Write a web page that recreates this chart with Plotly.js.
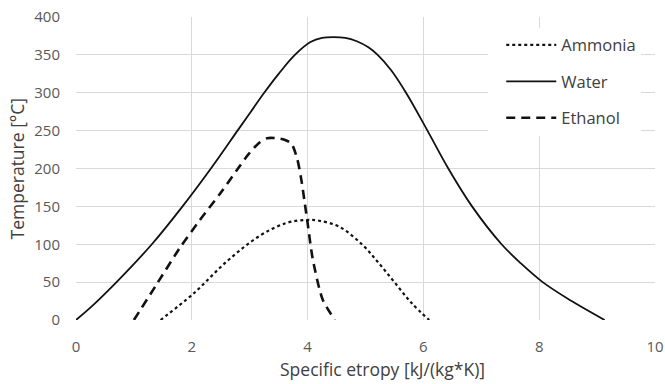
<!DOCTYPE html>
<html>
<head>
<meta charset="utf-8">
<script src="https://cdn.plot.ly/plotly-3.0.1.min.js"></script>
<style>html,body{margin:0;padding:0;background:#fff;}#chart{width:665px;height:384px;}</style>
</head>
<body>
<div id="chart"></div>
<script>
// Ammonia saturation dome
const ammoniaS = [1.46, 2.03, 2.6, 3.17, 3.63, 3.97, 4.2, 4.55, 4.95, 5.23, 5.52, 5.8, 6.1];
const ammoniaT = [0, 35, 77, 111, 128, 132, 131, 123, 99, 75, 48, 22, 0];
// Water saturation dome
const waterS = [0, 0.30, 0.70, 1.31, 1.84, 2.33, 2.79, 3.02, 3.25, 3.50, 3.78, 4.05, 4.25, 4.45, 4.65, 4.85, 5.05, 5.21, 5.44, 5.70, 6.07, 6.43, 6.84, 7.35, 7.68, 8.06, 8.56, 9.13];
const waterT = [0, 20, 50, 100, 150, 200, 250, 275, 300, 325, 350, 367, 372.5, 373.5, 372.5, 368, 360, 350, 330, 300, 250, 200, 150, 100, 75, 50, 25, 0];
// Ethanol saturation dome
const ethanolS = [1.0, 1.4, 1.8, 2.14, 2.5, 2.77, 2.97, 3.15, 3.3, 3.46, 3.6, 3.72, 3.82, 3.89, 3.95, 4.0, 4.09, 4.26, 4.47];
const ethanolT = [0, 48, 96, 132, 168, 197, 218, 233, 240, 240, 238, 233, 213, 186, 155, 128, 80, 27, 0];

const xTicks = [0, 2, 4, 6, 8, 10];
const yTicks = [0, 50, 100, 150, 200, 250, 300, 350, 400];

const xTitle = 'Specific etropy [kJ/(kg*K)]';
const yTitle = 'Temperature [°C]';

const FONT = 'Open Sans, sans-serif';
const traces = [
  {x: ammoniaS, y: ammoniaT, name: 'Ammonia', mode: 'lines', legendgroup: 'a',
   line: {color: '#111111', width: 2.2, dash: 'dot', shape: 'spline', smoothing: 1}},
  {x: waterS, y: waterT, name: 'Water', mode: 'lines', legendgroup: 'w',
   line: {color: '#111111', width: 1.8, shape: 'spline', smoothing: 1}},
  {x: ethanolS, y: ethanolT, name: 'Ethanol', mode: 'lines', legendgroup: 'e',
   line: {color: '#111111', width: 2.6, dash: '9px,6px', shape: 'spline', smoothing: 0.7}}
];

const layout = {
  width: 665, height: 384,
  margin: {l: 76, r: 10, t: 17, b: 64},
  paper_bgcolor: '#ffffff', plot_bgcolor: '#ffffff',
  font: {family: FONT, size: 15, color: '#595959'},
  showlegend: true,
  legend: {x: 0.712, y: 0.965, xanchor: 'left', yanchor: 'top', indentation: 13,
           bgcolor: '#ffffff', borderwidth: 0, tracegroupgap: 12, itemwidth: 50,
           font: {family: FONT, size: 16.5, color: '#404040'}},
  xaxis: {range: [0, 10], tickvals: xTicks, ticktext: xTicks.map(String),
          showgrid: true, gridcolor: '#d9d9d9', gridwidth: 1,
          zeroline: false, showline: false, ticks: 'outside', ticklen: 13, tickcolor: 'rgba(0,0,0,0)',
          tickfont: {family: FONT, size: 15, color: '#595959'},
          fixedrange: true},
  yaxis: {range: [0, 400], tickvals: yTicks, ticktext: yTicks.map(String),
          showgrid: true, gridcolor: '#d9d9d9', gridwidth: 1,
          zeroline: false, showline: false, ticks: 'outside', ticklen: 12, tickcolor: 'rgba(0,0,0,0)',
          tickfont: {family: FONT, size: 15, color: '#595959'},
          fixedrange: true},
  annotations: [
    {text: xTitle, xref: 'paper', yref: 'paper', x: 0.5285, y: -0.162, xanchor: 'center', yanchor: 'middle',
     showarrow: false, font: {family: FONT, size: 17.5, color: '#404040'}},
    {text: yTitle, xref: 'paper', yref: 'paper', x: -0.102, y: 0.5, xanchor: 'center', yanchor: 'middle',
     textangle: -90, showarrow: false, font: {family: FONT, size: 17.5, color: '#404040'}}
  ]
};

Plotly.newPlot('chart', traces, layout, {staticPlot: true, displayModeBar: false});
</script>
</body>
</html>
